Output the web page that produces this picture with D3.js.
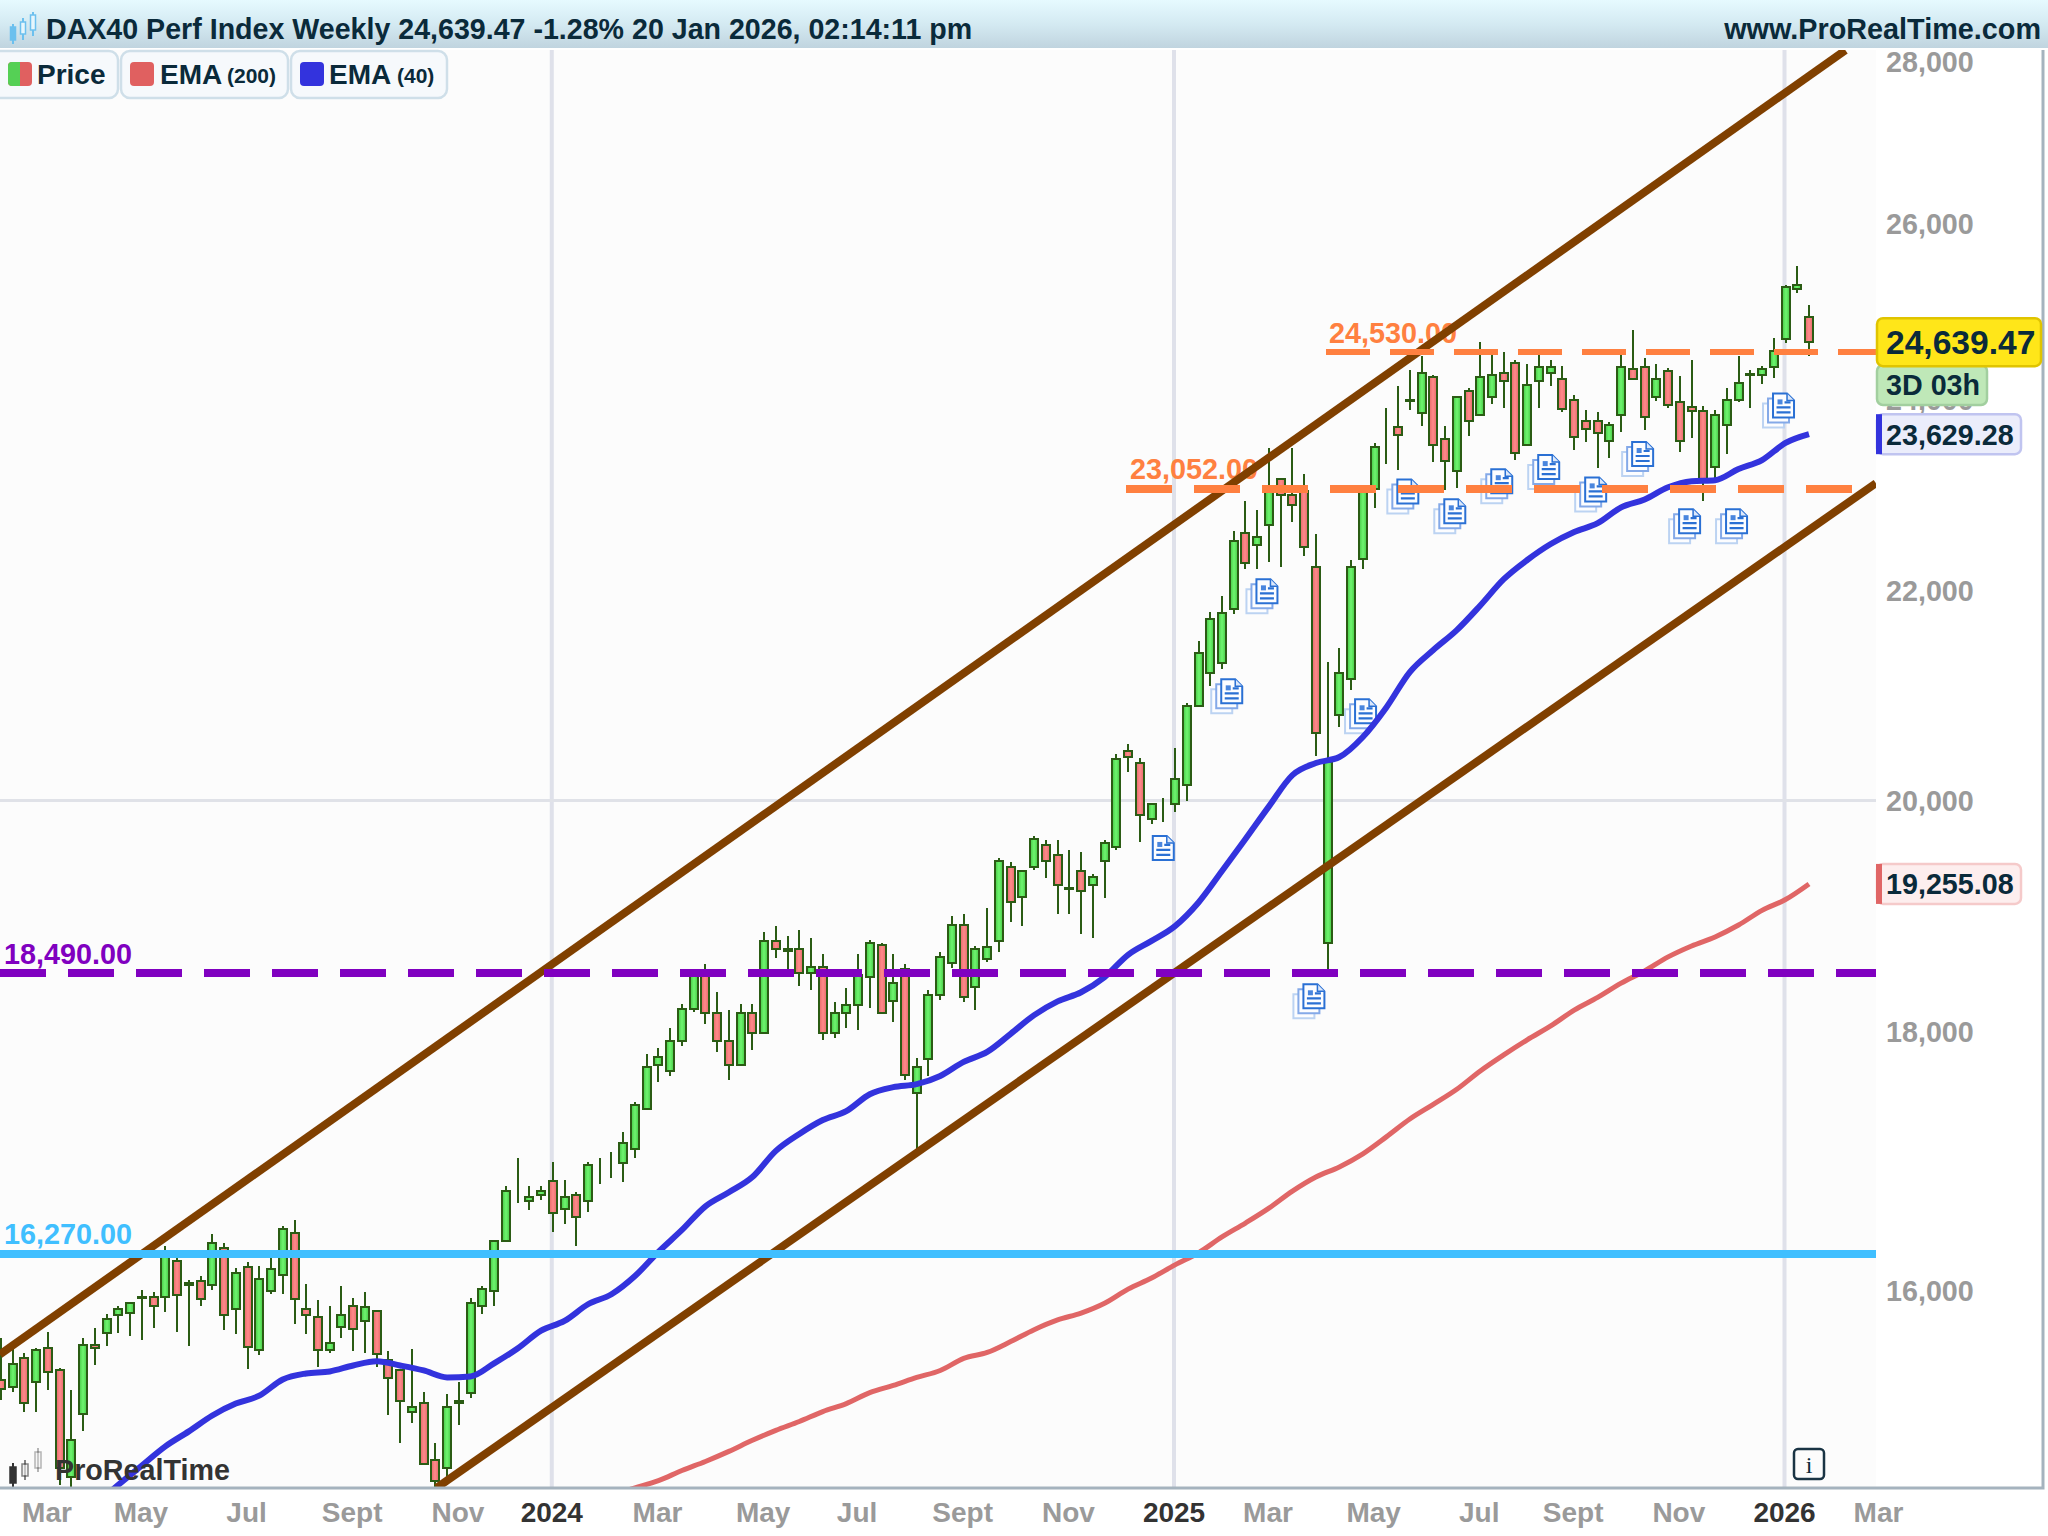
<!DOCTYPE html>
<html>
<head>
<meta charset="utf-8">
<title>DAX40 Perf Index Weekly</title>
<script src="https://d3js.org/d3.v7.min.js"></script>
<style>
  body { margin: 0; background: #fff; }
  svg { display: block; font-family: "Liberation Sans", Arial, sans-serif; font-weight: bold; }
</style>
</head>
<body>
<svg id="chart" width="2048" height="1536"></svg>
<script>
// Weekly candles, index 0 = week of 6 Feb 2023, index 154 = week of 19 Jan 2026
const opens = [
  15360,15317,15515,15346,15585,15430,14702,15124,15613,15698,
  15824,15838,15945,15952,15952,16219,16045,16071,16041,16316,
  15865,16175,15571,15997,16116,16427,15865,15810,15571,15740,
  15893,15782,15853,15501,15430,15138,15206,14811,14757,15205,
  15275,15893,15997,16369,16742,16665,16711,16820,16605,16711,
  16665,16913,16913,16959,17068,17378,17733,17684,17928,18188,
  18480,18155,17928,17733,18155,17993,18762,18680,18694,18490,
  18541,17993,18155,18220,18456,18728,18253,18524,17504,17781,
  18304,18575,18898,18371,18609,18762,19404,19137,19404,19600,
  19511,19212,19368,19244,19457,19582,20456,20344,19831,19885,
  19973,20139,20884,21194,21292,21818,22589,22467,22671,23150,
  22979,23022,22243,18745,20791,21136,22324,23043,23748,23706,
  23989,23855,24251,23578,23236,24095,23834,24028,24296,24407,
  23513,24206,24296,24229,24005,23770,23770,23556,23834,24340,
  24363,24028,24318,23983,23919,23877,23278,23727,24005,24280,
  24273,24363,24675,25240,24921
];
const highs = [
  15662,15578,15550,15592,15705,15445,15296,15662,15733,15831,
  15893,15916,16005,15990,16331,16242,16078,16108,16420,16353,
  16167,16212,16182,16242,16479,16524,16049,15930,15888,16034,
  15945,15990,15860,15564,15437,15578,15282,14927,15268,15346,
  15945,16034,16375,16781,16998,16781,16781,16967,16827,16734,
  16967,16998,17044,17200,17432,17822,17871,18033,18228,18499,
  18567,18329,18180,18228,18228,18838,18889,18804,18855,18787,
  18652,18245,18363,18652,18770,18745,18652,18567,17789,18346,
  18669,18974,18991,18719,19042,19484,19448,19375,19680,19644,
  19644,19555,19537,19341,19644,20428,20521,20391,19980,20019,
  20484,20912,21506,21789,21947,22610,22926,22824,23481,23155,
  23481,23204,22579,21301,21438,22314,23086,23540,23909,24150,
  24329,24485,24273,23716,24040,24128,24642,24497,24530,24441,
  24396,24497,24441,24374,24050,23887,23866,23759,24497,24776,
  24463,24396,24351,24262,24441,23930,23887,24128,24485,24329,
  24374,24687,25286,25509,25066
];
const lows = [
  15226,15282,15144,15138,15296,14648,14600,15008,15465,15606,
  15698,15676,15648,15733,15846,15705,15606,15888,16005,15719,
  15691,15437,15536,15975,15975,15761,15691,15451,15550,15662,
  15564,15550,15451,15117,14927,15063,14780,14600,14696,15049,
  15240,15831,15888,16365,16650,16598,16672,16435,16494,16331,
  16583,16796,16843,16812,16998,17375,17595,17643,17887,18163,
  18066,17838,17611,17730,17855,17990,18618,18516,18380,18346,
  17936,17952,18033,18017,18196,18150,18082,17611,17060,17643,
  18261,18533,18245,18180,18584,18669,18923,18889,19377,19306,
  18991,18991,18821,18787,19128,19555,20261,19626,19786,19804,
  19893,20000,20866,21067,21233,21770,22222,22222,22294,22243,
  22702,22355,20410,18500,20680,21028,22222,22844,23310,23246,
  23887,23716,23332,23033,23054,23610,23830,23951,23909,23353,
  23510,23909,24150,23866,23460,23545,23268,23375,23652,24225,
  23674,23994,23909,23439,23588,22926,23140,23417,23973,23909,
  24173,24240,24631,25193,24485
];
const closes = [
  15303,15472,15206,15571,15416,14757,14947,15613,15585,15796,
  15865,15909,15955,15893,16264,15967,16055,15937,16353,15824,
  16130,15599,16086,16160,16457,15937,15824,15571,15627,15824,
  15726,15881,15543,15374,15219,15178,14784,14675,15178,15218,
  15909,16012,16369,16742,16742,16695,16742,16576,16695,16546,
  16944,16913,16913,17114,17409,17716,17798,17928,18188,18473,
  18155,17928,17733,18155,17993,18762,18694,18690,18490,18541,
  17993,18155,18220,18473,18745,18155,18405,17651,17716,18304,
  18626,18898,18287,18694,18711,19457,19101,19368,19653,19457,
  19244,19222,19190,19315,19617,20382,20400,19867,19973,19885,
  20195,20884,21389,21721,21779,22508,22283,22549,23043,22979,
  22875,22447,20624,20354,21194,22243,23018,23492,23748,23620,
  23999,24296,23513,23343,24028,23770,24251,24273,24206,23428,
  24161,24363,24363,23898,23599,23684,23642,23727,24363,24229,
  23812,24229,23941,23556,23877,23140,23834,24005,24184,24290,
  24340,24541,25263,25286,24639.47
];

// EMA values read every second week
const ema40Weeks = d3.range(8, 155, 2);
const ema40 = [
  14512,14648,14777,14906,15008,15117,15199,15254,15367,15409,15423,
  15465,15494,15465,15430,15381,15388,15480,15585,15712,15782,
  15902,15975,16108,16286,16449,16627,16734,16850,17052,17184,
  17293,17363,17497,17554,17578,17643,17757,17838,17985,18139,
  18253,18329,18456,18643,18762,18889,19093,19368,19653,19947,
  20233,20344,20400,20587,20866,21204,21418,21613,21857,22120,
  22314,22477,22600,22691,22855,22937,23065,23129,23140,23257,
  23353,23535,23629.28
];
const ema200Weeks = d3.range(52, 155, 2);
const ema200 = [
  14580,14627,14675,14743,14804,14872,14947,15015,15076,15144,
  15199,15275,15325,15381,15430,15515,15557,15634,15719,15789,
  15838,15909,16012,16093,16190,16279,16397,16501,16613,16742,
  16850,16928,17029,17161,17301,17417,17537,17684,17814,17936,
  18050,18180,18286,18405,18507,18626,18719,18796,18898,19025,
  19119,19255.08
];

// Axis ticks
const priceTicks = [16000, 18000, 20000, 22000, 24000, 26000, 28000];
const gridPrices = [20000];
const tickWeeks = [4, 12, 21, 30, 39, 47, 56, 65, 73, 82, 91, 100, 108, 117, 126, 134, 143, 152, 160];
const tickLabels = ['Mar', 'May', 'Jul', 'Sept', 'Nov', '2024', 'Mar', 'May', 'Jul', 'Sept', 'Nov', '2025', 'Mar', 'May', 'Jul', 'Sept', 'Nov', '2026', 'Mar'];
const yearWeeks = [47, 100, 152];

// Trend channel: [week, price] at each end
const channelUpper = [[-0.1, 15543], [157.1, 28142]];
const channelLower = [[37.1, 14627], [159.7, 23108]];

// Horizontal levels
const levelPrices = [16270, 18490, 23052, 24530];
const levelText = ['16,270.00', '18,490.00', '23,052.00', '24,530.00'];
const levelColors = ['#40bfff', '#8000c0', '#ff8040', '#ff8040'];

// News markers: week and price of the icon centre
const docSingleWeeks = [99];
const docSinglePrices = [19573];
const docWeeks = [105, 108, 112, 116.4, 120, 124, 128, 132, 136, 140, 144, 148, 152];
const docPrices = [21019, 21998, 18295, 20829, 23022, 22814, 23129, 23278, 23043, 23417, 22712, 22712, 23941];

const plotRight = 1876;
const plotTop = 50;
const plotBottom = 1488;
const textSize = 28.7;

const svg = d3.select('#chart');
const x = d3.scaleLinear().domain([0, 154]).range([1, 1809]);
const y = d3.scaleLog().domain([16270, 24530]).range([1254, 352]);

const defs = svg.append('defs');
const gradient = (id, stops, x2, y2) => {
    const g = defs.append('linearGradient').attr('id', id)
        .attr('x1', 0).attr('y1', 0).attr('x2', x2).attr('y2', y2);
    stops.forEach((c, i) => g.append('stop')
        .attr('offset', i / (stops.length - 1)).attr('stop-color', c));
};
gradient('up', ['#45c945', '#6ff56f', '#45c945'], 1, 0);
gradient('down', ['#e56a6a', '#ff8a8a', '#e56a6a'], 1, 0);
gradient('head', ['#e6faff', '#d4eaf2', '#c0d4df'], 0, 1);
defs.append('clipPath').attr('id', 'plot').append('rect')
    .attr('x', 0).attr('y', plotTop).attr('width', plotRight).attr('height', plotBottom - plotTop);

// Background
svg.append('rect').attr('x', 0).attr('y', plotTop).attr('width', plotRight).attr('height', plotBottom - plotTop).attr('fill', '#fcfcfc');

const plot = svg.append('g').attr('clip-path', 'url(#plot)');

// Grid
plot.selectAll('.vgrid').data(yearWeeks).join('line').attr('class', 'vgrid')
    .attr('x1', d => x(d) - 1).attr('x2', d => x(d) - 1)
    .attr('y1', plotTop).attr('y2', plotBottom)
    .attr('stroke', '#dfe1ea').attr('stroke-width', 4);
plot.selectAll('.hgrid').data(gridPrices).join('line').attr('class', 'hgrid')
    .attr('x1', 0).attr('x2', plotRight)
    .attr('y1', d => y(d)).attr('y2', d => y(d))
    .attr('stroke', '#e0e2e8').attr('stroke-width', 3);

// Candles
const candleData = opens.map((o, i) => ({ i, o, h: highs[i], l: lows[i], c: closes[i] }));
const candle = plot.append('g').selectAll('g').data(candleData).join('g')
    .attr('transform', d => `translate(${Math.round(x(d.i))},0)`);
candle.append('line')
    .attr('y1', d => y(d.h)).attr('y2', d => y(d.l))
    .attr('stroke', '#2b5c14').attr('stroke-width', 2).attr('shape-rendering', 'crispEdges');
candle.append('rect')
    .attr('x', -4).attr('width', 8)
    .attr('y', d => Math.round(y(Math.max(d.o, d.c))))
    .attr('height', d => Math.round(y(Math.min(d.o, d.c))) - Math.round(y(Math.max(d.o, d.c))))
    .attr('fill', d => d.c >= d.o ? 'url(#up)' : 'url(#down)')
    .attr('stroke', '#2b5c14').attr('stroke-width', 2).attr('shape-rendering', 'crispEdges');

// News markers
function drawDoc(g, dx, dy, stroke, detail) {
    const w = 21, h = 24;
    const doc = g.append('g').attr('transform', `translate(${dx},${dy})`);
    doc.append('path')
        .attr('d', `M${-w / 2},${-h / 2}H${w / 2 - 7}L${w / 2},${-h / 2 + 7}V${h / 2}H${-w / 2}Z`)
        .attr('fill', '#fcfdff').attr('stroke', stroke).attr('stroke-width', 2);
    if (!detail) return;
    doc.append('path').attr('d', `M${w / 2 - 7},${-h / 2}V${-h / 2 + 7}H${w / 2}`)
        .attr('fill', '#dce8fa').attr('stroke', stroke).attr('stroke-width', 1.5);
    doc.append('rect').attr('x', -6).attr('y', -6).attr('width', 5).attr('height', 5).attr('fill', '#4a86de');
    doc.append('path').attr('d', 'M1,-3H7M-7,2H7M-7,7H7')
        .attr('stroke', '#2a70d4').attr('stroke-width', 2.2).attr('fill', 'none');
}
const docData = docWeeks.map((w, i) => ({ w, p: docPrices[i] }));
plot.append('g').selectAll('g').data(docData).join('g')
    .attr('transform', d => `translate(${x(d.w) - 2},${y(d.p)})`)
    .each(function () {
        const g = d3.select(this);
        drawDoc(g, -10, 10, '#bcd3f2', false);
        drawDoc(g, -5, 5, '#84a9e8', false);
        drawDoc(g, 0, 0, '#2a70d4', true);
    });
plot.append('g').selectAll('g').data(docSingleWeeks).join('g')
    .attr('transform', (d, i) => `translate(${x(d)},${y(docSinglePrices[i])})`)
    .each(function () { drawDoc(d3.select(this), 0, 0, '#2a70d4', true); });

// EMAs
const emaLine = d3.line().x(d => x(d[0])).y(d => y(d[1])).curve(d3.curveMonotoneX);
plot.append('path').datum(ema200Weeks.map((w, i) => [w, ema200[i]]))
    .attr('d', emaLine).attr('fill', 'none').attr('stroke', '#e06666')
    .attr('stroke-width', 5).attr('stroke-linejoin', 'round');
plot.append('path').datum(ema40Weeks.map((w, i) => [w, ema40[i]]))
    .attr('d', emaLine).attr('fill', 'none').attr('stroke', '#3333dd')
    .attr('stroke-width', 6).attr('stroke-linejoin', 'round');

// Level labels sit under the channel lines
const labelX = [4, 4, 1130, 1329];
const labelDy = [-10.5, -8.5, -10, -9];
plot.selectAll('.level-label').data(levelPrices).join('text').attr('class', 'level-label')
    .attr('x', (d, i) => labelX[i])
    .attr('y', (d, i) => y(d) + labelDy[i])
    .attr('font-size', 28.8)
    .attr('fill', (d, i) => levelColors[i])
    .text((d, i) => levelText[i]);

// Channel
const channelLine = d3.line().x(d => x(d[0])).y(d => y(d[1]));
plot.selectAll('.channel').data([channelUpper, channelLower]).join('path').attr('class', 'channel')
    .attr('d', channelLine).attr('fill', 'none').attr('stroke', '#804000').attr('stroke-width', 8);

// Levels
const levelStart = [0, 0, 1126, 1326];
const levelEnd = [plotRight, plotRight, 1852, plotRight];
const levelDash = [null, '46 22', '46 22', '44 20'];
const levelWidth = [8, 8, 8, 6];
plot.selectAll('.level').data(levelPrices).join('line').attr('class', 'level')
    .attr('x1', (d, i) => levelStart[i]).attr('x2', (d, i) => levelEnd[i])
    .attr('y1', d => y(d)).attr('y2', d => y(d))
    .attr('stroke', (d, i) => levelColors[i])
    .attr('stroke-width', (d, i) => levelWidth[i])
    .attr('stroke-dasharray', (d, i) => levelDash[i])
    .attr('shape-rendering', 'crispEdges');

// Watermark
const logo = svg.append('g').attr('fill', '#333');
[[13, 1463, 1487, 1], [25, 1460, 1480, 0.6], [38, 1448, 1472, 0.35]].forEach(c => {
    logo.append('line').attr('x1', c[0]).attr('x2', c[0]).attr('y1', c[1]).attr('y2', c[2])
        .attr('stroke', '#333').attr('stroke-width', 2).attr('opacity', c[3]);
    logo.append('rect').attr('x', c[0] - 3).attr('y', c[1] + 4).attr('width', 6).attr('height', c[2] - c[1] - 8)
        .attr('fill', c[3] === 1 ? '#333' : '#eee').attr('stroke', '#333').attr('stroke-width', 1.5).attr('opacity', c[3]);
});
logo.append('text').attr('x', 55).attr('y', 1480).attr('font-size', textSize).text('ProRealTime');

// Info button
const info = svg.append('g');
info.append('rect').attr('x', 1794).attr('y', 1449).attr('width', 30).attr('height', 30).attr('rx', 4)
    .attr('fill', 'none').attr('stroke', '#1a3444').attr('stroke-width', 2.5);
info.append('text').attr('x', 1809).attr('y', 1473).attr('text-anchor', 'middle')
    .attr('font-family', '"Liberation Serif", serif').attr('font-weight', 'normal')
    .attr('font-size', 24).attr('fill', '#0a2a3a').text('i');

// Frame
svg.append('path').attr('d', `M0,${plotBottom}H2043V${plotTop}`)
    .attr('fill', 'none').attr('stroke', '#a5b3be').attr('stroke-width', 3);

// Axes
const yAxis = d3.axisRight(y).tickValues(priceTicks).tickFormat(d3.format(',')).tickSize(0).tickPadding(0);
const yAxisG = svg.append('g').attr('transform', 'translate(1886,0.5)').call(yAxis);
yAxisG.select('.domain').remove();
yAxisG.selectAll('text').attr('font-size', textSize).attr('font-family', null).attr('fill', '#9a9a9a');

const xAxis = d3.axisBottom(x).tickValues(tickWeeks).tickFormat((d, i) => tickLabels[i]).tickSize(0).tickPadding(14);
const xAxisG = svg.append('g').attr('transform', `translate(-1.5,${plotBottom})`).call(xAxis);
xAxisG.select('.domain').remove();
xAxisG.selectAll('text').attr('font-size', 28).attr('font-family', null)
    .attr('fill', d => yearWeeks.includes(d) ? '#333' : '#9a9a9a');

// Price tags
function priceTag(yc, x2, h, text, fill, stroke, strip, size) {
    const g = svg.append('g');
    g.append('rect').attr('x', 1877).attr('y', yc - h / 2).attr('width', x2 - 1877).attr('height', h).attr('rx', 6)
        .attr('fill', fill).attr('stroke', stroke).attr('stroke-width', 2.5);
    if (strip) g.append('rect').attr('x', 1876).attr('y', yc - h / 2).attr('width', 6).attr('height', h).attr('fill', strip);
    g.append('text').attr('x', 1886).attr('y', yc).attr('dy', '0.36em')
        .attr('font-size', size).attr('fill', '#0a2a3a').text(text);
}
const lastClose = closes[closes.length - 1];
const lastEma40 = ema40[ema40.length - 1];
const lastEma200 = ema200[ema200.length - 1];
priceTag(y(lastEma200), 2021, 40, d3.format(',.2f')(lastEma200), '#fdeeee', '#f5caca', '#e06666', textSize);
priceTag(y(lastEma40), 2021, 40, d3.format(',.2f')(lastEma40), '#ebedfb', '#c0c4f0', '#3333dd', textSize);
priceTag(385, 1987, 40, '3D 03h', '#bfe8b8', '#a2cf9f', null, textSize);
priceTag(y(lastClose), 2041, 48, d3.format(',.2f')(lastClose), '#ffe619', '#e0c400', null, 33.6);

// Header
svg.append('rect').attr('x', 0).attr('y', 0).attr('width', 2048).attr('height', 48).attr('fill', 'url(#head)');
[[13, 24, 44, 27, 40], [23, 18, 40, 22, 34], [33, 12, 36, 15, 30]].forEach(c => {
    svg.append('line').attr('x1', c[0]).attr('x2', c[0]).attr('y1', c[1]).attr('y2', c[2]).attr('stroke', '#6cc0ee').attr('stroke-width', 2);
    svg.append('rect').attr('x', c[0] - 2.5).attr('y', c[3]).attr('width', 5).attr('height', c[4] - c[3])
        .attr('fill', c[0] === 13 ? '#6cc0ee' : '#e6f6fc').attr('stroke', '#6cc0ee').attr('stroke-width', 1.5);
});
svg.append('text').attr('x', 46).attr('y', 39).attr('font-size', 28.6).attr('fill', '#0a2a3a')
    .text('DAX40 Perf Index Weekly 24,639.47 -1.28% 20 Jan 2026, 02:14:11 pm');
svg.append('text').attr('x', 2041).attr('y', 39).attr('text-anchor', 'end').attr('font-size', 28.8).attr('fill', '#0a2a3a')
    .text('www.ProRealTime.com');

// Legend
const legendNames = ['Price', 'EMA', 'EMA'];
const legendPeriods = ['', '(200)', '(40)'];
const legendColors = ['#e06060', '#e06060', '#3333dd'];
const legendChipX = [-10, 121, 291];
const legendChipW = [128, 167, 156];
const legendSwatchX = [8, 130, 300];
const legendTextX = [37, 160, 329];
const legendPeriodX = [0, 227, 397];
const legendGroup = svg.append('g').selectAll('g').data(legendNames).join('g');
legendGroup.append('rect')
    .attr('x', (d, i) => legendChipX[i]).attr('y', 51).attr('rx', 9)
    .attr('width', (d, i) => legendChipW[i]).attr('height', 47)
    .attr('fill', '#f6f9fc').attr('stroke', '#cfdfe9').attr('stroke-width', 2.5);
legendGroup.append('rect')
    .attr('x', (d, i) => legendSwatchX[i]).attr('y', 62).attr('width', 24).attr('height', 24).attr('rx', 4)
    .attr('fill', (d, i) => legendColors[i]);
legendGroup.filter((d, i) => i === 0).append('path')
    .attr('d', 'M12,62H20V86H12Q8,86 8,82V66Q8,62 12,62Z').attr('fill', '#55d055');
legendGroup.append('text').attr('x', (d, i) => legendTextX[i]).attr('y', 84)
    .attr('font-size', 28).attr('fill', '#0a2a3a').text(d => d);
legendGroup.append('text').attr('x', (d, i) => legendPeriodX[i]).attr('y', 83)
    .attr('font-size', 21).attr('fill', '#0a2a3a').text((d, i) => legendPeriods[i]);
</script>
</body>
</html>
